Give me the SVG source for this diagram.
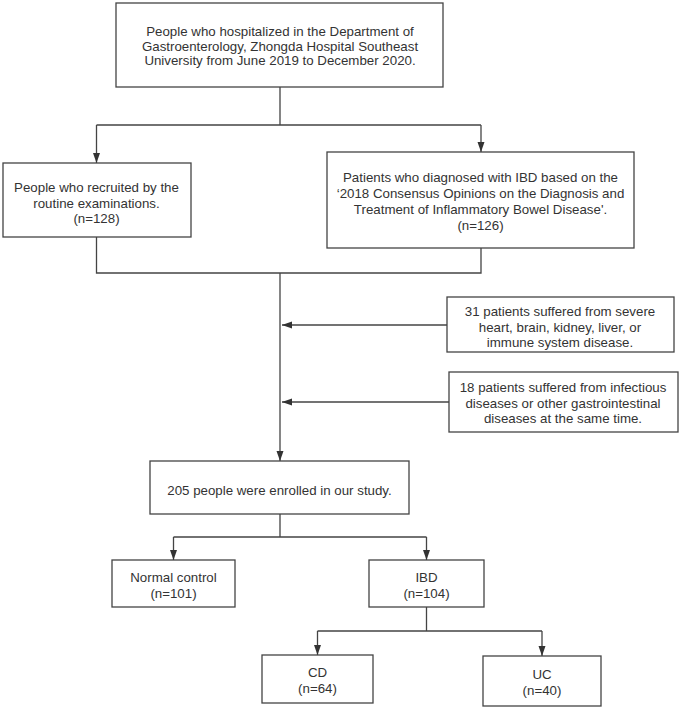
<svg xmlns="http://www.w3.org/2000/svg" width="682" height="709" viewBox="0 0 682 709">
<style>
.box{fill:#fff;stroke:#444;stroke-width:1.3}
.t{font-family:"Liberation Sans",Arial,sans-serif;font-size:13.3px;fill:#333;text-anchor:middle}
.c{fill:none;stroke:#444;stroke-width:1.3}
</style>
<defs>
<marker id="ah" viewBox="0 0 10 10" refX="10" refY="5" markerWidth="10" markerHeight="10" markerUnits="userSpaceOnUse" orient="auto">
<path d="M0,1.5 L10,5 L0,8.5 z" fill="#333"/>
</marker>
</defs>
<rect width="682" height="709" fill="#fff"/>
<g id="connectors">
<path class="c" d="M280,87 V125 M96.5,125 H481"/>
<path class="c" d="M96.5,125 V163" marker-end="url(#ah)"/>
<path class="c" d="M481,125 V152" marker-end="url(#ah)"/>
<path class="c" d="M96.5,237 V273 H481 V248"/>
<path class="c" d="M280,273 V461" marker-end="url(#ah)"/>
<path class="c" d="M447,325 H282" marker-end="url(#ah)"/>
<path class="c" d="M449,402 H282" marker-end="url(#ah)"/>
<path class="c" d="M280,514 V537 M173.5,537 H426.5"/>
<path class="c" d="M173.5,537 V560" marker-end="url(#ah)"/>
<path class="c" d="M426.5,537 V560" marker-end="url(#ah)"/>
<path class="c" d="M426.5,607 V631 M317.5,631 H542"/>
<path class="c" d="M317.5,631 V655" marker-end="url(#ah)"/>
<path class="c" d="M542,631 V656" marker-end="url(#ah)"/>
</g>
<g id="top">
<rect class="box" x="116" y="3" width="327" height="84"/>
<text class="t" x="280" y="36">People who hospitalized in the Department of</text>
<text class="t" x="280" y="50.5">Gastroenterology, Zhongda Hospital Southeast</text>
<text class="t" x="280" y="65">University from June 2019 to December 2020.</text>
</g>
<g id="recruited">
<rect class="box" x="3" y="163" width="188" height="74"/>
<text class="t" x="96.5" y="192">People who recruited by the</text>
<text class="t" x="96.5" y="207.5">routine examinations.</text>
<text class="t" x="96.5" y="223">(n=128)</text>
</g>
<g id="ibd-diagnosed">
<rect class="box" x="327" y="152" width="307" height="96"/>
<text class="t" x="480.5" y="182">Patients who diagnosed with IBD based on the</text>
<text class="t" x="480.5" y="198">‘2018 Consensus Opinions on the Diagnosis and</text>
<text class="t" x="480.5" y="214">Treatment of Inflammatory Bowel Disease'.</text>
<text class="t" x="480.5" y="229.5">(n=126)</text>
</g>
<g id="excl1">
<rect class="box" x="447" y="297" width="227" height="55"/>
<text class="t" x="560" y="316">31 patients suffered from severe</text>
<text class="t" x="560" y="331.5">heart, brain, kidney, liver, or</text>
<text class="t" x="560" y="347">immune system disease.</text>
</g>
<g id="excl2">
<rect class="box" x="449" y="372" width="229" height="60"/>
<text class="t" x="563" y="392">18 patients suffered from infectious</text>
<text class="t" x="563" y="407.5">diseases or other gastrointestinal</text>
<text class="t" x="563" y="423">diseases at the same time.</text>
</g>
<g id="enrolled">
<rect class="box" x="150" y="461" width="259" height="53"/>
<text class="t" x="279.5" y="495">205 people were enrolled in our study.</text>
</g>
<g id="normal">
<rect class="box" x="112" y="560" width="123" height="47"/>
<text class="t" x="173.5" y="582">Normal control</text>
<text class="t" x="173.5" y="598">(n=101)</text>
</g>
<g id="ibd">
<rect class="box" x="369" y="560" width="115" height="47"/>
<text class="t" x="426.5" y="582">IBD</text>
<text class="t" x="426.5" y="598">(n=104)</text>
</g>
<g id="cd">
<rect class="box" x="262" y="655" width="111" height="48"/>
<text class="t" x="317.5" y="677">CD</text>
<text class="t" x="317.5" y="693">(n=64)</text>
</g>
<g id="uc">
<rect class="box" x="483" y="656" width="118" height="50"/>
<text class="t" x="542" y="679">UC</text>
<text class="t" x="542" y="695">(n=40)</text>
</g>
</svg>
